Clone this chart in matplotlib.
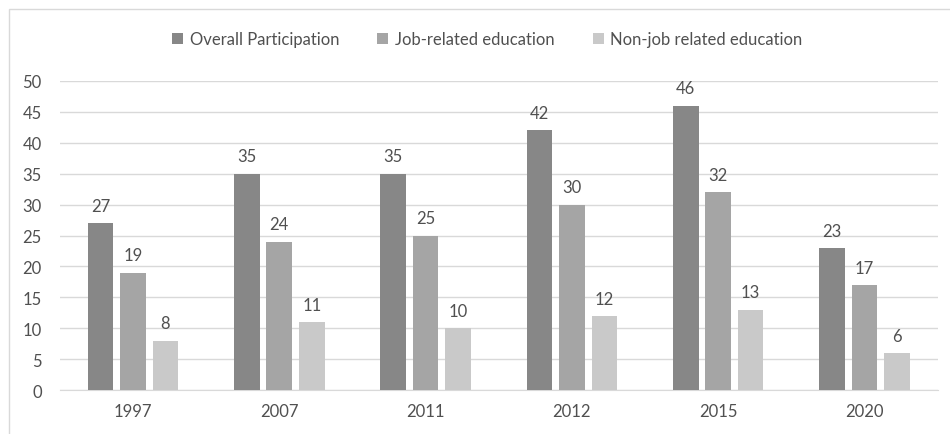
import matplotlib
matplotlib.use("Agg")
import matplotlib.pyplot as plt
import numpy as np
from matplotlib.patches import Rectangle

years = ["1997", "2007", "2011", "2012", "2015", "2020"]
overall = [27, 35, 35, 42, 46, 23]
job = [19, 24, 25, 30, 32, 17]
nonjob = [8, 11, 10, 12, 13, 6]
series_names = ["Overall Participation", "Job-related education", "Non-job related education"]
colors = ["#878787", "#a5a5a5", "#c9c9c9"]
txt = "#505050"

plt.rcParams['font.family'] = ['Lato', 'DejaVu Sans']

fig = plt.figure(figsize=(9.5, 4.35), dpi=100)
ax = fig.add_axes([0.063, 0.101, 0.924, 0.7105])

x = np.arange(len(years))
w = 0.175
step = 0.222
for i, (vals, name, c) in enumerate(zip([overall, job, nonjob], series_names, colors)):
    pos = x + (i - 1) * step
    ax.bar(pos, vals, width=w, color=c, label=name, zorder=3)
    for p, v in zip(pos, vals):
        ax.text(p, v + 1.5, str(v), ha='center', va='bottom', fontsize=12, color=txt)

ax.set_ylim(0, 50)
ax.set_xlim(-0.5, len(years) - 0.5)
ax.set_yticks(range(0, 51, 5))
ax.set_xticks(x)
ax.set_xticklabels(years)
ax.tick_params(axis='both', length=0, labelsize=12, labelcolor=txt)
ax.tick_params(axis='y', pad=13)
ax.tick_params(axis='x', pad=9)
ax.grid(axis='y', color='#d9d9d9', linewidth=1, zorder=0)
for s in ['top', 'right', 'left']:
    ax.spines[s].set_visible(False)
ax.spines['bottom'].set_color('#d9d9d9')

leg = fig.legend(loc='center', bbox_to_anchor=(0.513, 0.907), ncol=3, frameon=False,
                 fontsize=12, handlelength=0.65, handleheight=0.65, columnspacing=2.3,
                 handletextpad=0.4)
for t in leg.get_texts():
    t.set_color(txt)

# outer chart frame
fig.patches.append(Rectangle((0.009, -0.05), 1.2, 1.027, transform=fig.transFigure,
                             fill=False, edgecolor='#d9d9d9', linewidth=1))

fig.savefig("out.png", dpi=100)
